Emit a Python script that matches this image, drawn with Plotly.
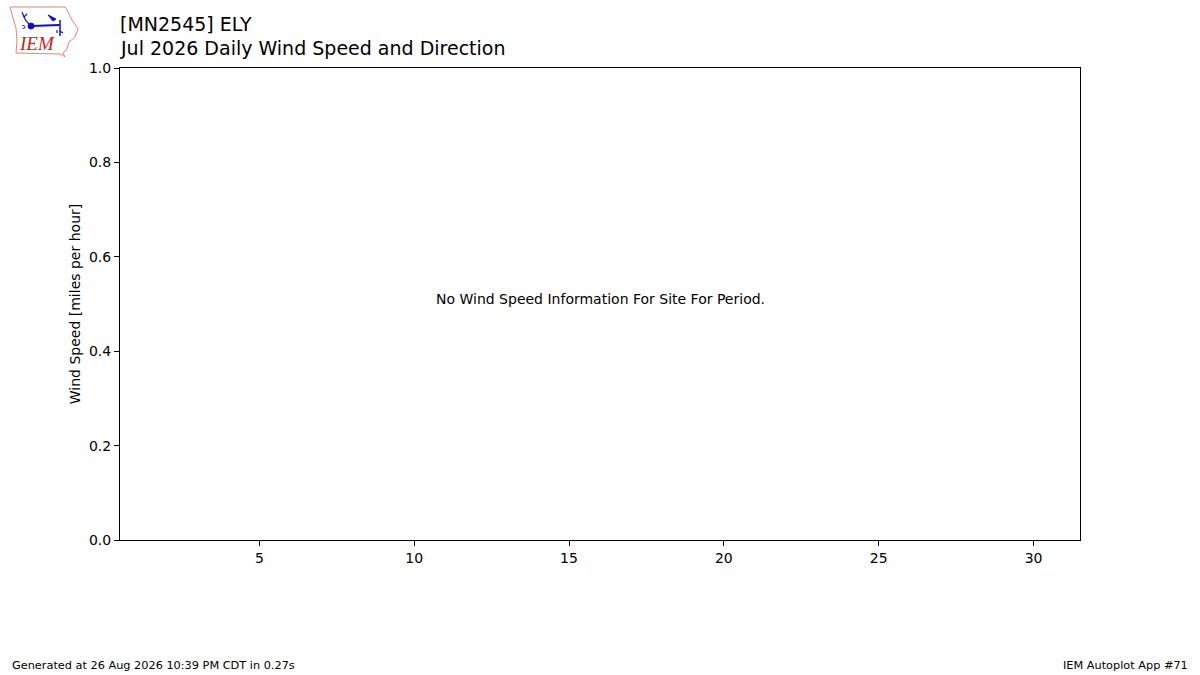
import plotly.graph_objects as go

# chart data (no observations for this period)
days = []
wind_speed = []
x_ticks = [5, 10, 15, 20, 25, 30]
y_ticks = [0.0, 0.2, 0.4, 0.6, 0.8, 1.0]

site_title = "[MN2545] ELY"
sub_title = "Jul 2026 Daily Wind Speed and Direction"
no_data_msg = "No Wind Speed Information For Site For Period."
footer_left = "Generated at 26 Aug 2026 10:39 PM CDT in 0.27s"
footer_right = "IEM Autoplot App #71"

W, H = 1200, 675
L, R, T, B = 120, 1080, 68, 540


def px(x, y):
    # pixel position -> paper coords
    return (x - L) / (R - L), (B - y) / (B - T)


def path_from(points, close=True):
    parts = []
    for i, (x, y) in enumerate(points):
        a, b = px(x, y)
        parts.append(("M" if i == 0 else "L") + f"{a:.5f},{b:.5f}")
    return " ".join(parts) + (" Z" if close else "")


fig = go.Figure()
fig.add_trace(go.Scatter(x=days, y=wind_speed, mode="markers", showlegend=False))

font = "DejaVu Sans"
blue = "#1010c0"

# rough IEM logo: Iowa outline, wind vane, text
iowa = [(10, 7), (65, 7), (67, 10), (72, 20), (78, 29), (75, 37), (69, 42),
        (67, 49), (63, 53), (65, 57), (61, 54), (16, 53), (17, 40), (16, 28),
        (13, 18), (10, 7)]


def seg(points, width=1.5, close=False, fill=None):
    d = dict(type="path", xref="paper", yref="paper", path=path_from(points, close),
             line=dict(color=blue, width=width), layer="above")
    if fill:
        d["fillcolor"] = fill
    return d


shapes = [
    dict(type="path", xref="paper", yref="paper", path=path_from(iowa),
         line=dict(color="#e88080", width=1), fillcolor="white", layer="above"),
    seg([(31, 26), (60, 25)], width=2),
    seg([(60, 20), (60, 36)], width=1.5),
    seg([(48, 15), (56, 19), (53, 21)], width=1, close=True, fill=blue),
    seg([(22, 12), (24, 17), (26, 21), (31, 26)], width=1.2),
    seg([(24, 17), (27, 14)], width=1.2),
    seg([(60, 31), (63, 33)], width=1.2),
    seg([(57, 30), (57, 33)], width=1.2),
]
r0 = px(28, 29)
r1 = px(34, 23)
shapes.append(dict(type="circle", xref="paper", yref="paper",
                   x0=r0[0], y0=r0[1], x1=r1[0], y1=r1[1],
                   line=dict(color=blue, width=1), fillcolor=blue, layer="above"))
d0 = px(21.5, 28.5)
d1 = px(25, 25.5)
shapes.append(dict(type="circle", xref="paper", yref="paper",
                   x0=d0[0], y0=d0[1], x1=d1[0], y1=d1[1],
                   line=dict(color=blue, width=1, dash="dot"), layer="above"))

annotations = []


def add_text(text, x, y, size, xanchor="left", color="black", family=font, yanchor="middle"):
    a, b = px(x, y)
    annotations.append(dict(text=text, x=a, y=b, xref="paper", yref="paper",
                            xanchor=xanchor, yanchor=yanchor, showarrow=False,
                            font=dict(family=family, size=size, color=color)))


add_text("<i>IEM</i>", 37, 43, 19, xanchor="center", color="#d02020", family="Liberation Serif")
add_text(site_title, 118, 24, 19)
add_text(sub_title, 118, 48, 19)
add_text(no_data_msg, 600, 299, 14, xanchor="center")
add_text(footer_left, 10, 665, 11.3)
add_text(footer_right, 1190, 665, 11.3, xanchor="right")

axis_common = dict(
    showline=True, linecolor="black", linewidth=1, mirror=True,
    ticks="outside", ticklen=5, tickcolor="black", tickwidth=1,
    showgrid=False, zeroline=False,
    tickfont=dict(family=font, size=14, color="black"),
)

fig.update_layout(
    width=W, height=H,
    margin=dict(l=L, r=W - R, t=T, b=H - B),
    paper_bgcolor="white", plot_bgcolor="white",
    font=dict(family=font, color="black"),
    xaxis=dict(range=[0.5, 31.5], tickvals=x_ticks, **axis_common),
    yaxis=dict(range=[0, 1], tickvals=y_ticks, tickformat=".1f",
               title=dict(text="Wind Speed [miles per hour]",
                          font=dict(family=font, size=14), standoff=5),
               **axis_common),
    shapes=shapes,
    annotations=annotations,
)

fig.write_html("out.html", config={"displayModeBar": False},
               post_script="document.body.style.margin='0';")
